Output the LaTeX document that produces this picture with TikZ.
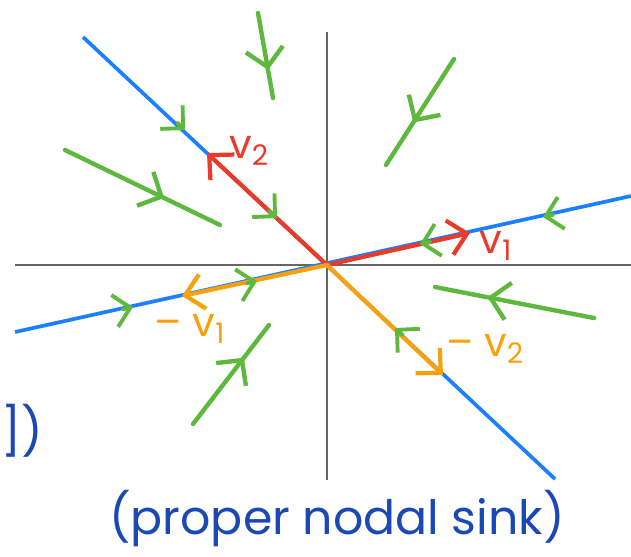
\documentclass[tikz,border=0pt]{standalone}
\usepackage{fontspec}
\setmainfont{Poppins}
\usepackage{xcolor}
\usetikzlibrary{arrows.meta, calc, decorations.markings}

\definecolor{lineblue}{HTML}{1A80FF}
\definecolor{vecred}{HTML}{EA3B2A}
\definecolor{vecorange}{HTML}{F7A20C}
\definecolor{trajgreen}{HTML}{5DB83D}
\definecolor{inkblue}{HTML}{1B48B5}

\begin{document}
\begin{tikzpicture}[
    x=0.02cm, y=-0.02cm,
    axis/.style={draw=black!60, line width=1pt},
    eigline/.style={draw=lineblue, line width=2.1pt},
    vecarrow/.style={line width=2.4pt, line cap=round, -{Straight Barb[length=3.6mm, width=7mm]}},
    traj/.style={draw=trajgreen, line width=2.5pt, line cap=round, postaction={decorate},
        decoration={markings, mark=at position #1 with {\arrow{Straight Barb[length=3.6mm, width=7.5mm]}}}},
    chev/.style={draw=trajgreen, line width=2.2pt, line cap=round, -{Straight Barb[length=3.2mm, width=6.5mm]}},
    vlabel/.style={font=\fontsize{23}{27}\selectfont},
    hand/.style={text=inkblue, font=\fontsize{27}{32}\selectfont},
]
\useasboundingbox (0,0) rectangle (631,556);

% Axes
\coordinate (O) at (327,265);
\draw[axis] (327,32) coordinate (ytop) -- (327,480) coordinate (ybot);
\draw[axis] (15,265) coordinate (xl) -- (631,265) coordinate (xr);

% Eigenvector lines
\coordinate (b1l) at (15,332);
\coordinate (b1r) at (631,196);
\coordinate (b2t) at (83,37);
\coordinate (b2b) at (555,479);
\draw[eigline] (b1l) -- (b1r);
\draw[eigline] (b2t) -- (b2b);

% Eigenvectors
\coordinate (v1) at (470,233);
\coordinate (v2) at (207,153);
\coordinate (mv1) at (182,296);
\coordinate (mv2) at (443,375);
\draw[vecarrow, vecred] (O) -- (v1);
\draw[vecarrow, vecred] (O) -- (v2);
\draw[vecarrow, vecorange] (O) -- (mv1);
\draw[vecarrow, vecorange] (O) -- (mv2);

\node[vlabel, text=vecred] (lv1) at (496,246) {v\textsubscript{1}};
\node[vlabel, text=vecred] (lv2) at (249,151) {v\textsubscript{2}};
\node[vlabel, text=vecorange] (lmv1) at (190,329) {– v\textsubscript{1}};
\node[vlabel, text=vecorange] (lmv2) at (485,349) {– v\textsubscript{2}};

% Trajectories
\draw[traj=0.67] (258,13) coordinate (t1a) -- (273,98) coordinate (t1b);
\draw[traj=0.6] (454,59) coordinate (t2a) -- (386,165) coordinate (t2b);
\draw[traj=0.64] (65,150) coordinate (t3a) -- (220,225) coordinate (t3b);
\draw[traj=0.67] (594,318) coordinate (t4a) -- (435,287) coordinate (t4b);
\draw[traj=0.67] (193,424) coordinate (t5a) -- (269,325) coordinate (t5b);

% Flow marks on the eigenvector lines
\foreach \px/\py [count=\i] in {185/130, 277/218, 420/244, 543/217, 133/307, 257/281, 395/328} {
    \coordinate (c\i) at (\px,\py);
    \draw[chev] ($(c\i)!-6pt!(O)$) -- (c\i);
}

% Notes
\node[hand, anchor=east] (bracket) at (49,431) {])};
\node[hand] (title) at (337,518) {(proper nodal sink)};

\end{tikzpicture}
\end{document}
